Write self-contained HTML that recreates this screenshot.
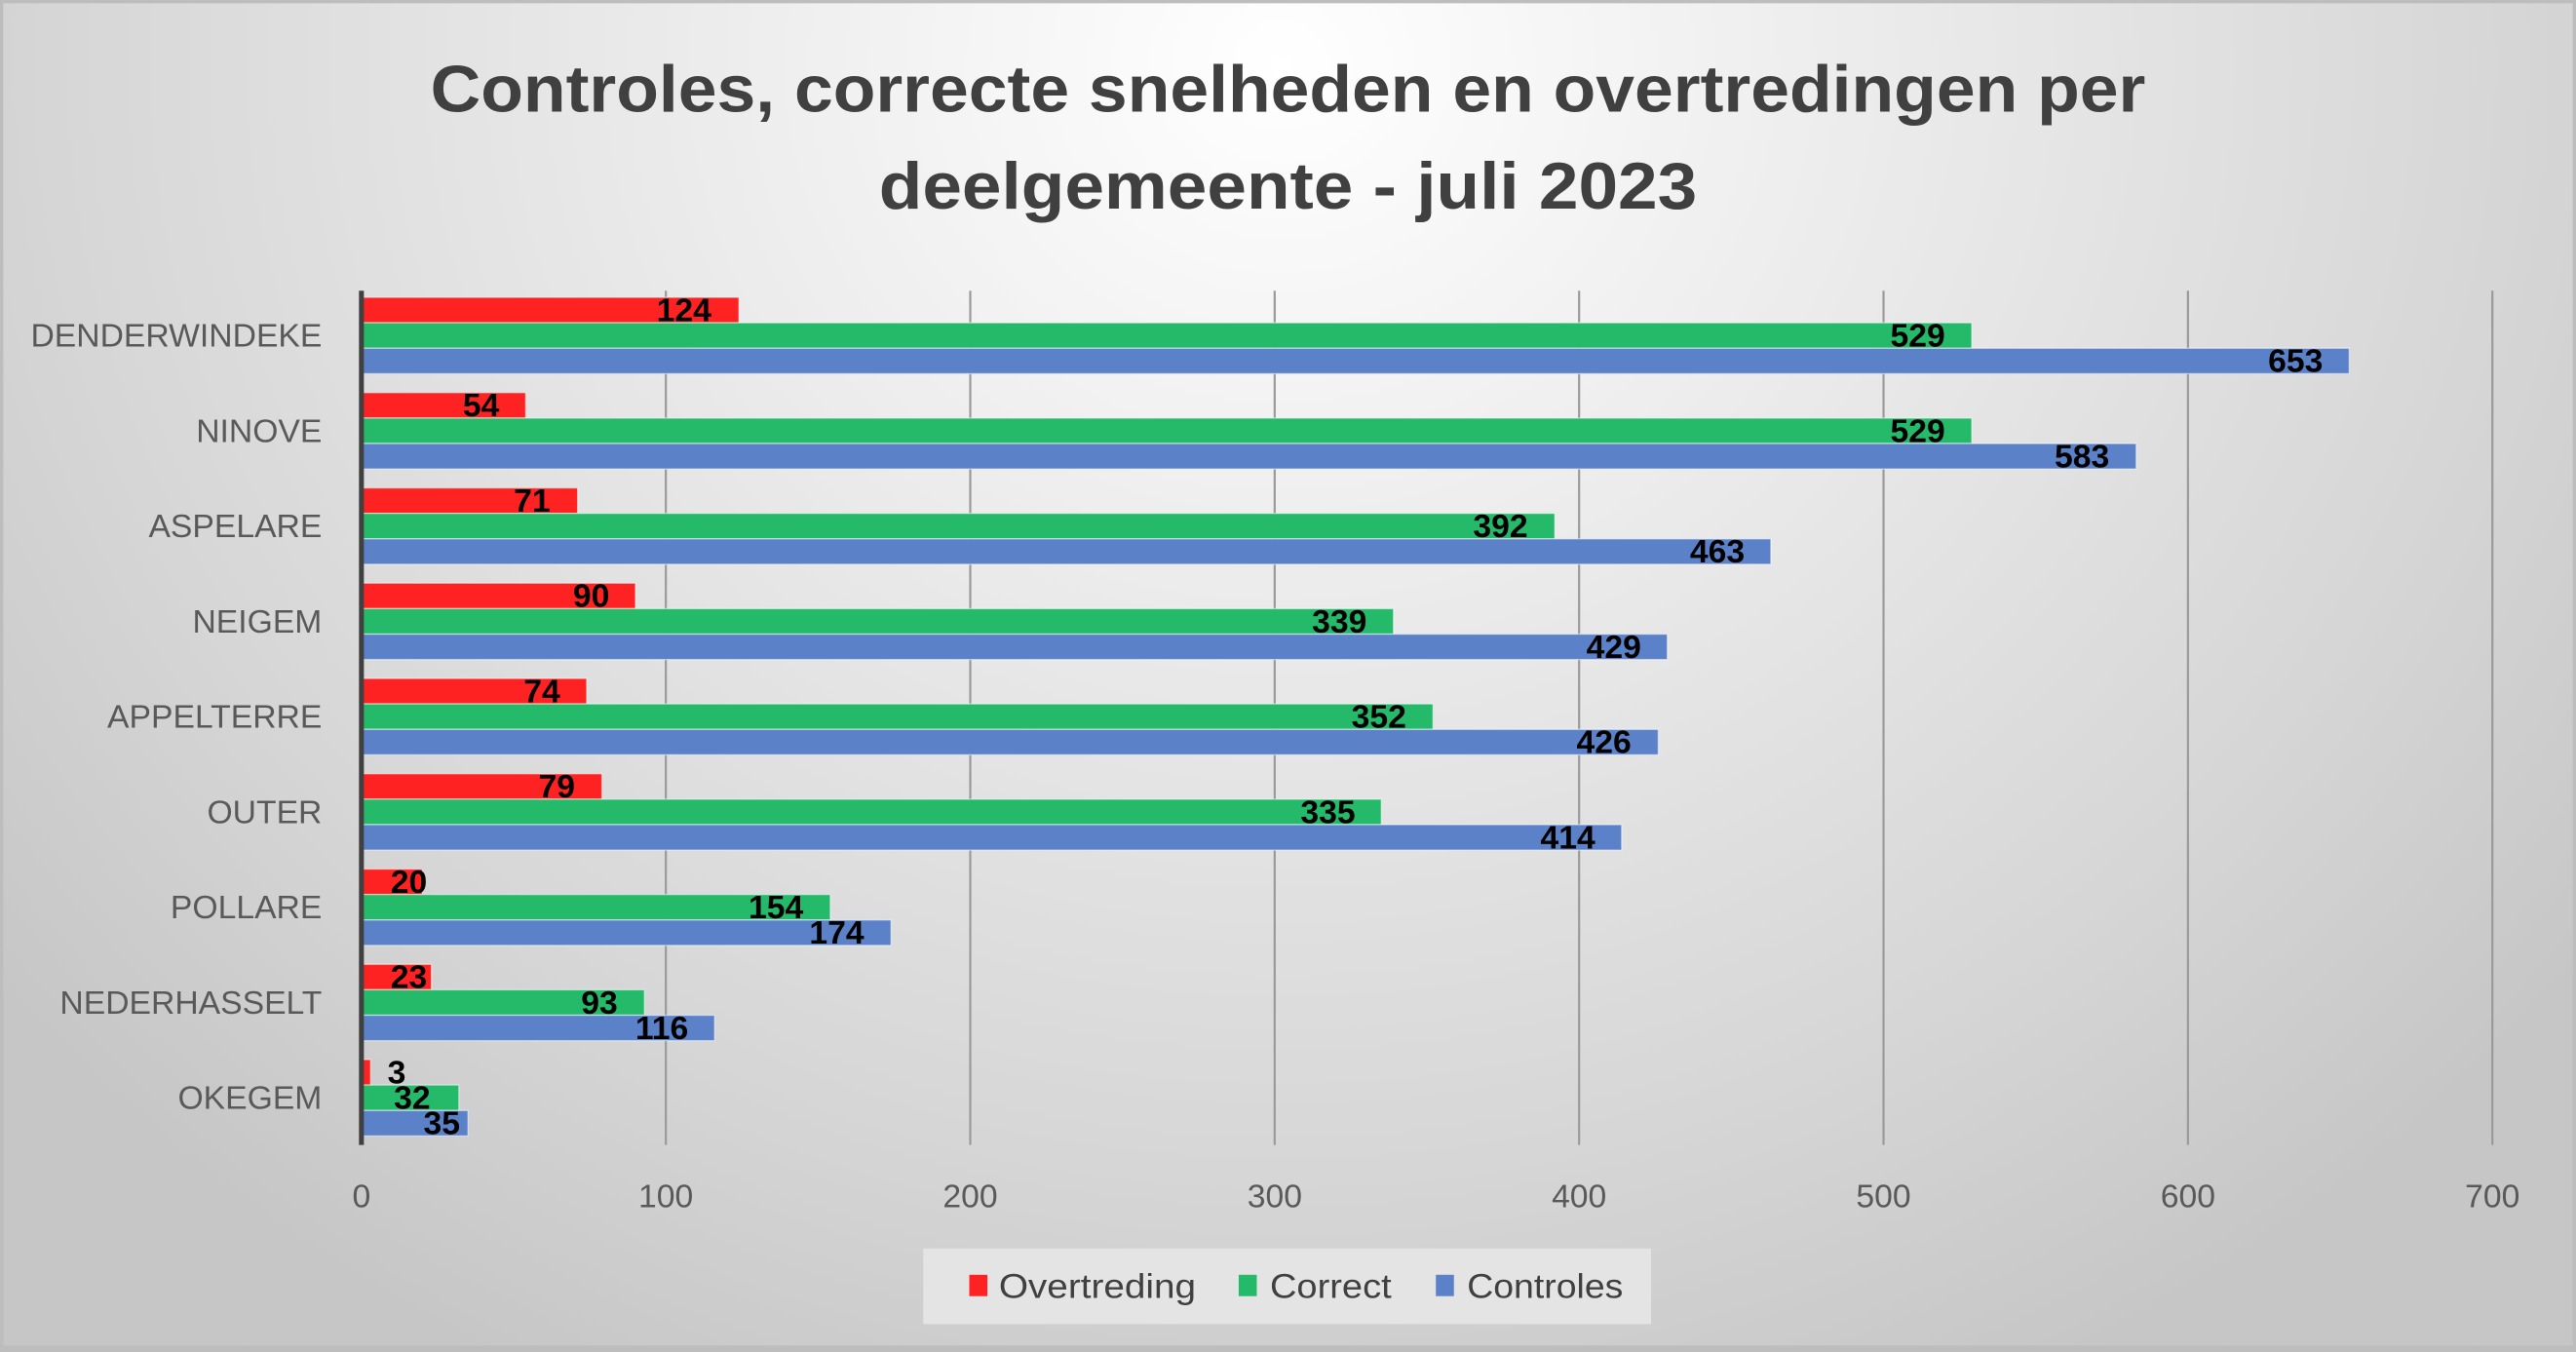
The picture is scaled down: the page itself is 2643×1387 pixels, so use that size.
<!DOCTYPE html>
<html><head><meta charset="utf-8"><style>
html,body{margin:0;padding:0;width:2643px;height:1387px;overflow:hidden;background:#d0d0d0}
svg{display:block}
</style></head><body>
<svg width="2643" height="1387" viewBox="0 0 1568 823" preserveAspectRatio="none" xmlns="http://www.w3.org/2000/svg" font-family="'Liberation Sans Narrow','Liberation Sans',sans-serif">
<defs>
<radialGradient id="bg" cx="780" cy="40" r="1000" gradientUnits="userSpaceOnUse" gradientTransform="translate(780 40) scale(1 0.9) translate(-780 -40)">
<stop offset="0" stop-color="#ffffff"/>
<stop offset="0.35" stop-color="#ececec"/>
<stop offset="0.75" stop-color="#d6d6d6"/>
<stop offset="1" stop-color="#c6c6c6"/>
</radialGradient>
</defs>
<rect x="0" y="0" width="1568" height="823" fill="#bdbdbd"/>
<rect x="2" y="2" width="1564" height="817" fill="url(#bg)"/>
<g font-family="'Liberation Sans',sans-serif" font-weight="bold" fill="#404040" font-size="40" text-anchor="middle">
<text x="784" y="68" textLength="1044" lengthAdjust="spacingAndGlyphs">Controles, correcte snelheden en overtredingen per</text>
<text x="784" y="127" textLength="498" lengthAdjust="spacingAndGlyphs">deelgemeente - juli 2023</text>
</g>
<g stroke="#9a9a9a" stroke-width="1.3">
<line x1="405.3" y1="177" x2="405.3" y2="697"/>
<line x1="590.6" y1="177" x2="590.6" y2="697"/>
<line x1="775.9" y1="177" x2="775.9" y2="697"/>
<line x1="961.2" y1="177" x2="961.2" y2="697"/>
<line x1="1146.5" y1="177" x2="1146.5" y2="697"/>
<line x1="1331.8" y1="177" x2="1331.8" y2="697"/>
<line x1="1517.1" y1="177" x2="1517.1" y2="697"/>
</g>
<g id="bars" stroke="#ffffff" stroke-opacity="0.5" stroke-width="0.8">
<!-- rows: top = 177 + 58*i ; red y+4, green y+19.5, blue y+35 ; h 15.5 ; scale 1.853 -->
<rect x="220" y="181" width="229.8" height="15.5" fill="#ff2222"/>
<rect x="220" y="196.5" width="980.2" height="15.5" fill="#25b96a"/>
<rect x="220" y="212" width="1210" height="15.5" fill="#5b82c9"/>
<rect x="220" y="239" width="100" height="15.5" fill="#ff2222"/>
<rect x="220" y="254.5" width="980.2" height="15.5" fill="#25b96a"/>
<rect x="220" y="270" width="1080.3" height="15.5" fill="#5b82c9"/>
<rect x="220" y="297" width="131.6" height="15.5" fill="#ff2222"/>
<rect x="220" y="312.5" width="726.4" height="15.5" fill="#25b96a"/>
<rect x="220" y="328" width="857.9" height="15.5" fill="#5b82c9"/>
<rect x="220" y="355" width="166.8" height="15.5" fill="#ff2222"/>
<rect x="220" y="370.5" width="628.2" height="15.5" fill="#25b96a"/>
<rect x="220" y="386" width="794.9" height="15.5" fill="#5b82c9"/>
<rect x="220" y="413" width="137.1" height="15.5" fill="#ff2222"/>
<rect x="220" y="428.5" width="652.3" height="15.5" fill="#25b96a"/>
<rect x="220" y="444" width="789.4" height="15.5" fill="#5b82c9"/>
<rect x="220" y="471" width="146.4" height="15.5" fill="#ff2222"/>
<rect x="220" y="486.5" width="620.8" height="15.5" fill="#25b96a"/>
<rect x="220" y="502" width="767.1" height="15.5" fill="#5b82c9"/>
<rect x="220" y="529" width="37.1" height="15.5" fill="#ff2222"/>
<rect x="220" y="544.5" width="285.4" height="15.5" fill="#25b96a"/>
<rect x="220" y="560" width="322.4" height="15.5" fill="#5b82c9"/>
<rect x="220" y="587" width="42.6" height="15.5" fill="#ff2222"/>
<rect x="220" y="602.5" width="172.3" height="15.5" fill="#25b96a"/>
<rect x="220" y="618" width="215" height="15.5" fill="#5b82c9"/>
<rect x="220" y="645" width="5.6" height="15.5" fill="#ff2222"/>
<rect x="220" y="660.5" width="59.3" height="15.5" fill="#25b96a"/>
<rect x="220" y="676" width="64.9" height="15.5" fill="#5b82c9"/>
</g>
<line x1="220" y1="177" x2="220" y2="697" stroke="#404040" stroke-width="3"/>
<g font-weight="bold" font-size="20" fill="#000" text-anchor="end">
<text x="433" y="195.5">124</text><text x="1184" y="211">529</text><text x="1414" y="226.5">653</text>
<text x="304" y="253.5">54</text><text x="1184" y="269">529</text><text x="1284" y="284.5">583</text>
<text x="335" y="311.5">71</text><text x="930" y="327">392</text><text x="1062" y="342.5">463</text>
<text x="371" y="369.5">90</text><text x="832" y="385">339</text><text x="999" y="400.5">429</text>
<text x="341" y="427.5">74</text><text x="856" y="443">352</text><text x="993" y="458.5">426</text>
<text x="350" y="485.5">79</text><text x="825" y="501">335</text><text x="971" y="516.5">414</text>
<text x="260" y="543.5">20</text><text x="489" y="559">154</text><text x="526" y="574.5">174</text>
<text x="260" y="601.5">23</text><text x="376" y="617">93</text><text x="419" y="632.5">116</text>
<text x="247" y="659.5">3</text><text x="262" y="675">32</text><text x="280" y="690.5">35</text>
</g>
<g font-size="20" fill="#595959" text-anchor="end">
<text x="196" y="211">DENDERWINDEKE</text>
<text x="196" y="269">NINOVE</text>
<text x="196" y="327">ASPELARE</text>
<text x="196" y="385">NEIGEM</text>
<text x="196" y="443">APPELTERRE</text>
<text x="196" y="501">OUTER</text>
<text x="196" y="559">POLLARE</text>
<text x="196" y="617">NEDERHASSELT</text>
<text x="196" y="675">OKEGEM</text>
</g>
<g font-size="20" fill="#595959" text-anchor="middle">
<text x="220" y="735">0</text><text x="405.3" y="735">100</text><text x="590.6" y="735">200</text>
<text x="775.9" y="735">300</text><text x="961.2" y="735">400</text><text x="1146.5" y="735">500</text>
<text x="1331.8" y="735">600</text><text x="1517.1" y="735">700</text>
</g>
<rect x="562" y="760" width="443" height="46" fill="#e4e4e4"/>
<rect x="590" y="776" width="11" height="13" fill="#ff2222"/>
<rect x="754" y="776" width="11" height="13" fill="#25b96a"/>
<rect x="874" y="776" width="11" height="13" fill="#5b82c9"/>
<g font-size="21" fill="#404040">
<text x="608" y="790" textLength="120" lengthAdjust="spacingAndGlyphs">Overtreding</text>
<text x="773" y="790" textLength="74" lengthAdjust="spacingAndGlyphs">Correct</text>
<text x="893" y="790" textLength="95" lengthAdjust="spacingAndGlyphs">Controles</text>
</g>
</svg>
</body></html>
